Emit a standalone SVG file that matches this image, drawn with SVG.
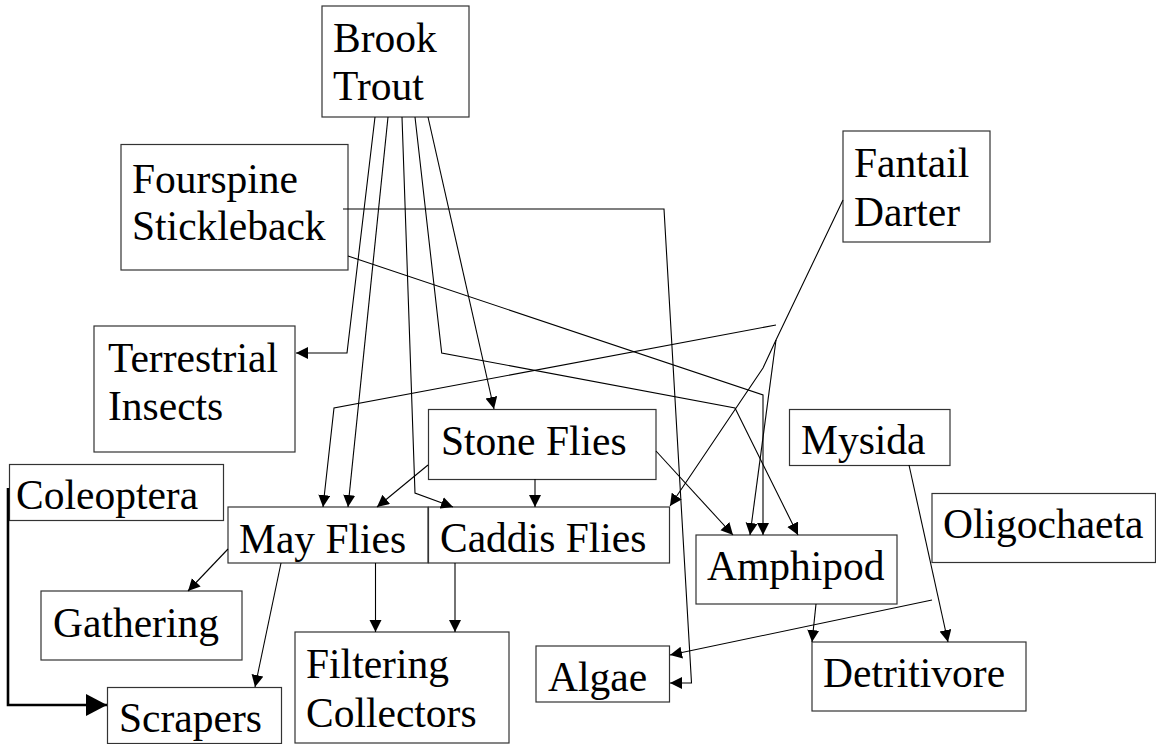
<svg xmlns="http://www.w3.org/2000/svg" width="1156" height="744" viewBox="0 0 1156 744">
<style>
.box{fill:#fff;stroke:#333;stroke-width:1.2}
.lbl{font-family:"Liberation Serif","Times New Roman",serif;font-size:41.5px;fill:#000}
.edge{fill:none;stroke:#000;stroke-width:1.1}
.thick{fill:none;stroke:#000;stroke-width:2.6}
</style>
<defs>
<marker id="arr" markerUnits="userSpaceOnUse" markerWidth="13" markerHeight="13" refX="12" refY="6" orient="auto">
<path d="M0,0 L12,6 L0,12 z" fill="#000"/>
</marker>
<marker id="arrBig" markerUnits="userSpaceOnUse" markerWidth="22" markerHeight="24" refX="21" refY="11" orient="auto">
<path d="M0,0 L21,11 L0,22 z" fill="#000"/>
</marker>
</defs>
<rect width="1156" height="744" fill="#fff"/>
<g id="brook-trout"><rect class="box" x="322" y="6" width="147" height="111"/><text class="lbl" x="333" y="52">Brook</text><text class="lbl" x="333" y="100">Trout</text></g>
<g id="fourspine-stickleback"><rect class="box" x="121" y="144.5" width="227" height="125.5"/><text class="lbl" x="132" y="193">Fourspine</text><text class="lbl" x="132" y="240">Stickleback</text></g>
<g id="terrestrial-insects"><rect class="box" x="94" y="326" width="201" height="126"/><text class="lbl" x="108" y="372">Terrestrial</text><text class="lbl" x="108" y="420">Insects</text></g>
<g id="fantail-darter"><rect class="box" x="843" y="131" width="147" height="111"/><text class="lbl" x="854" y="177">Fantail</text><text class="lbl" x="854" y="226">Darter</text></g>
<g id="coleoptera"><rect class="box" x="9.5" y="464.5" width="214" height="56"/><text class="lbl" x="16" y="509">Coleoptera</text></g>
<g id="may-flies"><rect class="box" x="228" y="507" width="200" height="56"/><text class="lbl" x="239" y="553">May Flies</text></g>
<g id="stone-flies"><rect class="box" x="428.5" y="409.5" width="227.5" height="70"/><text class="lbl" x="441" y="455">Stone Flies</text></g>
<g id="caddis-flies"><rect class="box" x="428.5" y="507" width="241" height="56"/><text class="lbl" x="440" y="552">Caddis Flies</text></g>
<g id="gathering"><rect class="box" x="41" y="591" width="201" height="69"/><text class="lbl" x="53" y="637">Gathering</text></g>
<g id="scrapers"><rect class="box" x="107.5" y="687.5" width="174" height="56"/><text class="lbl" x="119" y="732">Scrapers</text></g>
<g id="filtering-collectors"><rect class="box" x="295" y="632" width="214" height="111"/><text class="lbl" x="306" y="678">Filtering</text><text class="lbl" x="306" y="727">Collectors</text></g>
<g id="algae"><rect class="box" x="536" y="646" width="133.5" height="56"/><text class="lbl" x="548" y="691">Algae</text></g>
<g id="mysida"><rect class="box" x="789.5" y="409.5" width="160.5" height="56"/><text class="lbl" x="801" y="454">Mysida</text></g>
<g id="oligochaeta"><rect class="box" x="932" y="493.5" width="223.5" height="69"/><text class="lbl" x="943" y="538">Oligochaeta</text></g>
<g id="amphipod"><rect class="box" x="696" y="535" width="201" height="69"/><text class="lbl" x="707" y="580">Amphipod</text></g>
<g id="detritivore"><rect class="box" x="812" y="642" width="214" height="69"/><text class="lbl" x="823" y="687">Detritivore</text></g>
<g id="connectors">
<path class="edge" d="M375,117 L347,353 L296,353" marker-end="url(#arr)"/>
<path class="edge" d="M388,117 L348,507" marker-end="url(#arr)"/>
<path class="edge" d="M402,117 L415,493 L453,507" marker-end="url(#arr)"/>
<path class="edge" d="M415,117 L441.7,353 L735,408 L798,535" marker-end="url(#arr)"/>
<path class="edge" d="M428,117 L494,409" marker-end="url(#arr)"/>
<path class="edge" d="M343,209 L664,209 L691.5,683 L670,683" marker-end="url(#arr)"/>
<path class="edge" d="M348,256 L763,395 L763,535" marker-end="url(#arr)"/>
<path class="edge" d="M843,200 L776,340 L763,368 L670,506" marker-end="url(#arr)"/>
<path class="edge" d="M776,340 L750,535" marker-end="url(#arr)"/>
<path class="edge" d="M776,325 L334,408 L323,507" marker-end="url(#arr)"/>
<path class="edge" d="M656,451 L733,535" marker-end="url(#arr)"/>
<path class="edge" d="M428,465 L377,507" marker-end="url(#arr)"/>
<path class="edge" d="M535,479 L535,507" marker-end="url(#arr)"/>
<path class="edge" d="M228,549 L188,591" marker-end="url(#arr)"/>
<path class="edge" d="M281,563 L255,687" marker-end="url(#arr)"/>
<path class="edge" d="M375.5,563 L375.5,632" marker-end="url(#arr)"/>
<path class="edge" d="M455,563 L455,632" marker-end="url(#arr)"/>
<path class="edge" d="M932,600 L670,655" marker-end="url(#arr)"/>
<path class="edge" d="M816,604 L812,642" marker-end="url(#arr)"/>
<path class="edge" d="M909,465 L948,642" marker-end="url(#arr)"/>
<path class="thick" d="M8,488 L8,705 L107,705" marker-end="url(#arrBig)"/>
</g>
</svg>
